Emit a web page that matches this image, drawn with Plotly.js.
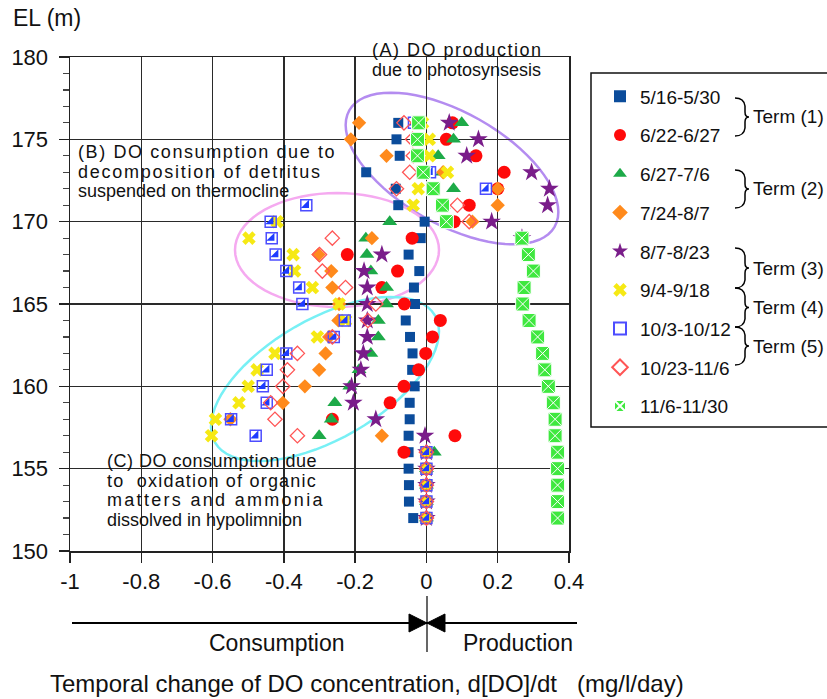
<!DOCTYPE html>
<html><head><meta charset="utf-8">
<script src="https://cdn.plot.ly/plotly-3.0.1.min.js"></script>
<style>html,body{margin:0;padding:0;background:#fff;} #chart{width:827px;height:699px;}</style>
</head><body><div id="chart"></div>
<script>
// ---------------- DATA ----------------
const elevations = [176,175,174,173,172,171,170,169,168,167,166,165,164,163,162,161,160,159,158,157,156,155,154,153,152];
const seriesNames = ['5/16-5/30','6/22-6/27','6/27-7/6','7/24-8/7','8/7-8/23','9/4-9/18','10/3-10/12','10/23-11/6','11/6-11/30'];
const may16_may30 = [-0.079,-0.084,-0.075,-0.169,-0.086,-0.079,-0.005,-0.016,-0.05,-0.02,-0.035,-0.032,-0.058,-0.046,-0.039,-0.04,-0.033,-0.047,-0.047,-0.05,-0.05,-0.05,-0.049,-0.049,-0.037];
const jun22_jun27 = [0.073,0.056,0.139,0.218,0.2,0.12,0.078,-0.04,-0.222,-0.081,-0.125,-0.062,0.039,0.017,-0.002,-0.022,-0.063,-0.102,-0.264,0.08,-0.063,0,0,0,0];
const jun27_jul6 = [0.099,0.076,0.033,0.045,0.076,0.047,-0.103,-0.17,-0.167,-0.156,-0.112,-0.112,-0.135,-0.135,-0.156,-0.189,-0.215,-0.257,-0.267,-0.301,0.022,0,0,0,0];
const jul24_aug7 = [-0.189,-0.212,-0.112,0.047,0.2,0.2,0.129,-0.153,-0.303,-0.267,-0.264,-0.245,-0.247,-0.273,-0.283,-0.301,-0.341,-0.403,-0.55,-0.125,0,0,0,0,0];
const aug7_aug23 = [0.064,0.146,0.113,0.295,0.345,0.34,0.183,0.268,-0.125,-0.175,-0.166,-0.166,-0.166,-0.166,-0.177,-0.184,-0.21,-0.205,-0.142,-0.004,0,0,0,0,0];
const sep4_sep18 = [-0.011,0.008,0.008,0.059,-0.023,-0.037,-0.419,-0.498,-0.374,-0.37,-0.32,-0.245,-0.227,-0.306,-0.425,-0.475,-0.5,-0.526,-0.592,-0.603,0,0,0,0,0];
const oct3_oct12 = [-0.035,-0.028,-0.028,0.01,0.167,-0.337,-0.437,-0.434,-0.423,-0.393,-0.357,-0.348,-0.229,-0.26,-0.393,-0.448,-0.459,-0.448,-0.548,-0.479,0,0,0,0,0];
const oct23_nov6 = [-0.063,-0.039,-0.037,-0.047,-0.084,0.087,0.12,-0.264,-0.3,-0.292,-0.227,-0.142,-0.164,-0.264,-0.362,-0.39,-0.403,-0.437,-0.425,-0.362,0,0,0,0,0];
const nov6_nov30 = [-0.022,-0.025,-0.025,-0.009,0.019,0.045,0.056,0.268,0.286,0.3,0.274,0.27,0.288,0.312,0.326,0.332,0.342,0.356,0.361,0.361,0.368,0.368,0.368,0.368,0.368];
const xTickVals = [-1,-0.8,-0.6,-0.4,-0.2,0,0.2,0.4];
const xTickText = ['-1','-0.8','-0.6','-0.4','-0.2','0','0.2','0.4'];
const yTickVals = [150,155,160,165,170,175,180];
const yTickText = ['150','155','160','165','170','175','180'];
const termLabels = ['Term (1)','Term (2)','Term (3)','Term (4)','Term (5)'];

// ---------------- GEOMETRY / STYLE ----------------
const FONT = 'Liberation Sans, Arial, Helvetica, sans-serif';
const L = 70, T = 57, W = 499, H = 494;
const X0 = -1, X1 = 0.4, Y0 = 150, Y1 = 180;
const PX = x => (x - L) / W;            // pixel -> paper x
const PY = y => (T + H - y) / H;        // pixel -> paper y
const pxToDataX = x => X0 + (x - L) / W * (X1 - X0);
const pxToDataY = y => Y0 + (T + H - y) / H * (Y1 - Y0);

const markerStyles = [
  {symbol:'square', size:10, color:'#0b4c9b'},
  {symbol:'circle', size:13, color:'#ff0a0a'},
  {symbol:'triangle-up', size:13, color:'#1daa48'},
  {symbol:'diamond', size:11, color:'#ff8a1c'},
  {symbol:'star', size:14, color:'#7a1d8a'},
  {symbol:'x', size:12, color:'#f6e914', line:{width:0}},
  {symbol:'square-open', size:11, color:'#4d4dff', line:{width:1.5}},
  {symbol:'diamond-open', size:11, color:'#ff5555', line:{width:1.3}},
  {symbol:'square-x', size:14, color:'#3fe83f', line:{color:'#ffffff', width:1}}
];
const halfFill = {symbol:'triangle-se', size:9, color:'#1e3cff'};

const seriesValues = [may16_may30, jun22_jun27, jun27_jul6, jul24_aug7, aug7_aug23, sep4_sep18, oct3_oct12, oct23_nov6, nov6_nov30];

const traces = [];
seriesValues.forEach((vals, i) => {
  traces.push({type:'scatter', mode:'markers', x: vals, y: elevations, name: seriesNames[i],
    marker: markerStyles[i], legendgroup: 'g'+i, showlegend: true, hoverinfo:'x+y+name'});
  if (i === 6) {
    traces.push({type:'scatter', mode:'markers', x: vals, y: elevations, name: seriesNames[i],
      marker: halfFill, legendgroup: 'g'+i, showlegend: false, hoverinfo:'skip'});
  }
});

// ellipses (pixel-space definition, converted to data coords)
function ellipsePath(cxPx, cyPx, aPx, bPx, angDeg) {
  const th = angDeg * Math.PI / 180;
  const xs = (X1 - X0) / W, ys = (Y1 - Y0) / H;
  const cx = pxToDataX(cxPx), cy = pxToDataY(cyPx);
  let p = '';
  for (let k = 0; k <= 72; k++) {
    const t = k / 72 * 2 * Math.PI;
    const dx = aPx * Math.cos(t) * Math.cos(th) - bPx * Math.sin(t) * Math.sin(th);
    const dy = aPx * Math.cos(t) * Math.sin(th) + bPx * Math.sin(t) * Math.cos(th);
    p += (k === 0 ? 'M' : 'L') + (cx + dx * xs).toFixed(5) + ',' + (cy + dy * ys).toFixed(4);
  }
  return p + 'Z';
}
function ppath(pts) { // pts: array of [cmd, x, y, ...] in pixels -> paper path
  return pts.map(s => {
    const c = s[0]; const nums = s.slice(1); const out = [];
    for (let j = 0; j < nums.length; j += 2) out.push(PX(nums[j]).toFixed(5) + ',' + PY(nums[j+1]).toFixed(5));
    return c + out.join(' ');
  }).join(' ');
}
function brace(x0, yt, yb) {
  const ym = (yt + yb) / 2;
  return ppath([['M', x0, yt], ['Q', x0+9, yt, x0+10, yt+8], ['L', x0+10, ym-5], ['Q', x0+10, ym, x0+14, ym],
    ['Q', x0+10, ym, x0+10, ym+5], ['L', x0+10, yb-8], ['Q', x0+9, yb, x0, yb]]);
}

const shapes = [
  {type:'path', xref:'x', yref:'y', layer:'below', path: ellipsePath(452, 168.5, 118, 56, -29.5), line:{color:'#b48cf0', width:2.5}},
  {type:'path', xref:'x', yref:'y', layer:'below', path: ellipsePath(337, 250, 102, 57, 0), line:{color:'#f5aaf0', width:2.5}},
  {type:'path', xref:'x', yref:'y', layer:'below', path: ellipsePath(325, 379, 127, 60, 30), line:{color:'#78f0f5', width:2.5}},
  // legend box
  {type:'rect', xref:'paper', yref:'paper', x0:PX(591), x1:PX(850), y0:PY(427), y1:PY(73), line:{color:'#111', width:1.5}},
  // consumption / production arrow
  {type:'line', xref:'paper', yref:'paper', x0:PX(72), x1:PX(577), y0:PY(623), y1:PY(623), line:{color:'#000', width:2}},
  {type:'line', xref:'paper', yref:'paper', x0:PX(427), x1:PX(427), y0:PY(596), y1:PY(652), line:{color:'#000', width:1.2}},
  {type:'path', xref:'paper', yref:'paper', path: ppath([['M',409,614],['L',409,632],['L',427,623]]) + ' Z', fillcolor:'#000', line:{color:'#000', width:1}},
  {type:'path', xref:'paper', yref:'paper', path: ppath([['M',445,614],['L',445,632],['L',427,623]]) + ' Z', fillcolor:'#000', line:{color:'#000', width:1}},
  // braces
  {type:'path', xref:'paper', yref:'paper', path: brace(735, 98, 136), line:{color:'#000', width:1.5}},
  {type:'path', xref:'paper', yref:'paper', path: brace(735, 170, 208), line:{color:'#000', width:1.5}},
  {type:'path', xref:'paper', yref:'paper', path: brace(735, 248, 288), line:{color:'#000', width:1.5}},
  {type:'path', xref:'paper', yref:'paper', path: brace(735, 288, 327), line:{color:'#000', width:1.5}},
  {type:'path', xref:'paper', yref:'paper', path: brace(735, 327, 365), line:{color:'#000', width:1.5}}
];

function txt(text, xpx, ypx, size, anchor, spacing) {
  const t = spacing ? '<span style="letter-spacing:' + spacing + 'px">' + text + '</span>' : text;
  return {text: t, xref:'paper', yref:'paper', x: PX(xpx), y: PY(ypx), xanchor: anchor || 'left', yanchor:'middle',
    showarrow:false, font:{family:FONT, size:size, color:'#111'}, borderpad:0};
}
const termY = [116.5, 189, 268, 307.5, 346];
const annotations = [
  txt('EL (m)', 12, 18, 23),
  txt('(A) DO production', 371, 50, 18, 'left', 1.5),
  txt('due to photosynsesis', 371, 70, 18),
  txt('(B) DO consumption due to', 77, 152, 18, 'left', 1.6),
  txt('decomposition of detritus', 77, 172, 18, 'left', 1.75),
  txt('suspended on thermocline', 77, 191, 18),
  txt('(C) DO consumption due', 106, 461, 18, 'left', 0.5),
  txt('to  oxidation of organic', 106, 481, 18, 'left', 1.2),
  txt('matters and ammonia', 106, 500, 18, 'left', 2.3),
  txt('dissolved in hypolimnion', 106, 520, 18),
  txt('Consumption', 277, 643, 23, 'center'),
  txt('Production', 518, 643, 23, 'center'),
  txt('Temporal change of DO concentration, d[DO]/dt   (mg/l/day)', 367, 683, 24, 'center')
];
termLabels.forEach((t, i) => annotations.push(txt(t, 752, termY[i], 19)));

const layout = {
  width: 827, height: 699,
  margin: {l: L, r: 827 - L - W, t: T, b: 699 - T - H, pad: 0},
  paper_bgcolor: '#fff', plot_bgcolor: '#fff',
  font: {family: FONT, color: '#111'},
  showlegend: true,
  legend: {x: PX(600), y: PY(77.5), xanchor:'left', yanchor:'top', font:{family:FONT, size:19, color:'#111'},
    bgcolor:'rgba(0,0,0,0)', borderwidth:0, traceorder:'grouped', tracegroupgap:11, itemsizing:'constant'},
  xaxis: {range:[X0, X1], tickmode:'array', tickvals:xTickVals, ticktext:xTickText, showgrid:true, gridcolor:'#2a2a2a', gridwidth:1.5,
    zeroline:false, showline:true, mirror:true, linecolor:'#222', linewidth:1.5, ticks:'outside', ticklen:10, tickwidth:1.5, tickcolor:'#222',
    tickfont:{family:FONT, size:22, color:'#111'}, ticklabelstandoff:0, fixedrange:true},
  yaxis: {range:[Y0, Y1], tickmode:'array', tickvals:yTickVals, ticktext:yTickText, showgrid:true, gridcolor:'#2a2a2a', gridwidth:1.5,
    zeroline:false, showline:true, mirror:true, linecolor:'#222', linewidth:1.5, ticks:'outside', ticklen:10, tickwidth:1.5, tickcolor:'#222',
    minor:{tickmode:'linear', tick0:150, dtick:1, ticks:'outside', ticklen:6, tickwidth:1.2, tickcolor:'#444', showgrid:false},
    tickfont:{family:FONT, size:22, color:'#111'}, ticklabelstandoff:6, fixedrange:true},
  shapes: shapes,
  annotations: annotations
};

Plotly.newPlot('chart', traces, layout, {displayModeBar:false, staticPlot:true});
</script>
</body></html>
